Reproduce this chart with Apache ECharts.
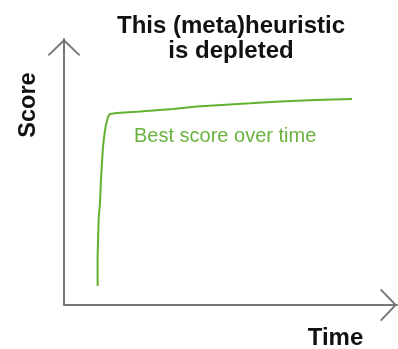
<!DOCTYPE html>
<html>
<head>
<meta charset="utf-8">
<style>
  html, body { margin: 0; padding: 0; background: #ffffff; }
  #chart { width: 398px; height: 349px; }
</style>
<script src="https://cdn.jsdelivr.net/npm/echarts@6/dist/echarts.min.js"></script>
</head>
<body>
<div id="chart"></div>
<script>
// Best score found so far, sampled over run time (arbitrary units 0-100)
const timeValues = [10.1, 10.1, 10.4, 10.4, 10.7, 10.8, 11.1, 11.4, 11.7, 12.2, 12.6, 13.2, 13.8, 15.9, 22.8, 32.7, 39.9, 49.8, 55.9, 56.2, 64.9, 65.2, 75.4, 75.7, 86.5];
const scoreValues = [7.1, 18.8, 19.2, 32.3, 32.7, 38.3, 47.0, 53.4, 59.4, 64.7, 67.7, 70.7, 71.8, 72.2, 72.7, 73.7, 74.6, 75.4, 75.8, 76.4, 76.5, 77.1, 77.1, 77.4, 77.4];

const titleText = 'This (meta)heuristic\nis depleted';
const xName = 'Time';
const yName = 'Score';
const seriesName = 'Best score over time';

const axisColor = '#777777';
const lineColor = '#62b22f';
const labelColor = '#6ab23e';
const font = '"Liberation Sans", Arial, sans-serif';

// open chevron arrow head, tip at top
const chevron = 'path://M0,16.3 L17,0 L34,16.3 L32.6,17.7 L17,2.8 L1.4,17.7 Z';

const chart = echarts.init(document.getElementById('chart'), null, { renderer: 'canvas' });

chart.setOption({
  animation: false,
  backgroundColor: '#ffffff',
  title: {
    text: titleText,
    left: 231,
    textAlign: 'center',
    top: 13.5,
    padding: 0,
    textStyle: {
      fontFamily: font,
      fontWeight: 'bold',
      fontSize: 24,
      lineHeight: 25,
      color: '#111111'
    }
  },
  grid: { left: 64, right: 1, top: 39, bottom: 44, containLabel: false },
  xAxis: {
    type: 'value',
    min: 0,
    max: 100,
    axisLine: {
      show: true,
      symbol: ['none', chevron],
      symbolSize: [34, 17],
      symbolOffset: [0, -8.5],
      lineStyle: { color: axisColor, width: 2 }
    },
    axisTick: { show: false },
    axisLabel: { show: false },
    splitLine: { show: false }
  },
  yAxis: {
    type: 'value',
    min: 0,
    max: 100,
    axisLine: {
      show: true,
      symbol: ['none', chevron],
      symbolSize: [34, 17],
      symbolOffset: [0, -8.5],
      lineStyle: { color: axisColor, width: 2 }
    },
    axisTick: { show: false },
    axisLabel: { show: false },
    splitLine: { show: false }
  },
  series: [{
    name: seriesName,
    type: 'line',
    data: timeValues.map((t, i) => [t, scoreValues[i]]),
    showSymbol: false,
    lineStyle: { color: lineColor, width: 2 }
  }],
  graphic: [
    {
      type: 'text',
      x: 29, y: 105,
      rotation: Math.PI / 2,
      style: {
        text: yName,
        fontFamily: font, fontWeight: 'bold', fontSize: 23.5,
        fill: '#111111', align: 'center', verticalAlign: 'middle'
      }
    },
    {
      type: 'text',
      x: 335.5, y: 338,
      style: {
        text: xName,
        fontFamily: font, fontWeight: 'bold', fontSize: 24,
        fill: '#111111', align: 'center', verticalAlign: 'middle'
      }
    },
    {
      type: 'text',
      x: 134, y: 136,
      style: {
        text: seriesName,
        fontFamily: font, fontSize: 20,
        fill: labelColor, align: 'left', verticalAlign: 'middle'
      }
    }
  ]
});
</script>
</body>
</html>
